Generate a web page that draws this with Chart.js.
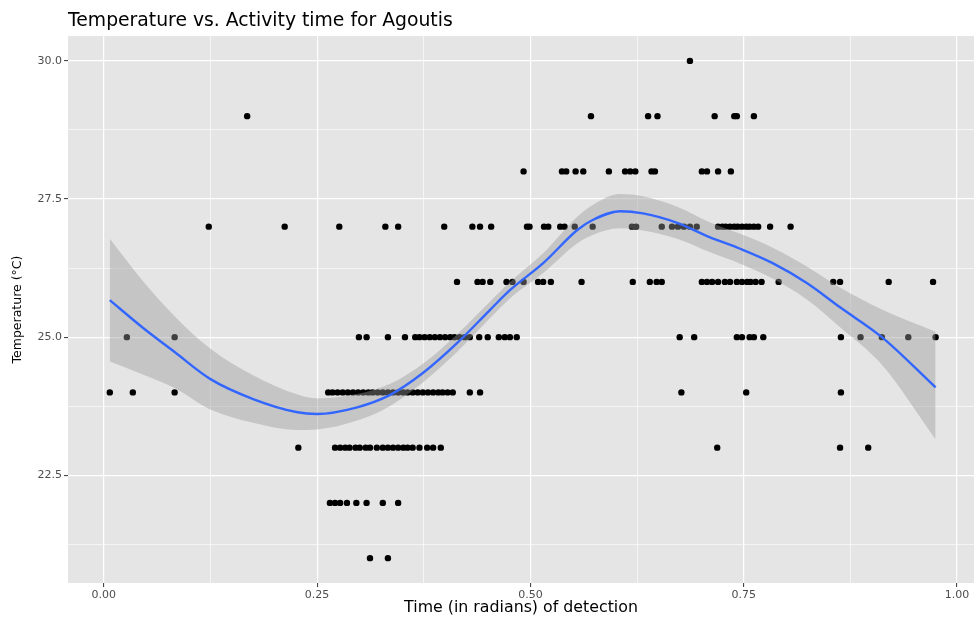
<!DOCTYPE html>
<html>
<head>
<meta charset="utf-8">
<script src="https://cdn.jsdelivr.net/npm/chart.js@4/dist/chart.umd.min.js"></script>
<style>
  html, body { margin: 0; padding: 0; background: #ffffff; }
  #wrap { width: 975px; height: 623px; }
</style>
</head>
<body>
<div id="wrap"><canvas id="agoutiChart"></canvas></div>
<script>
// detections, one list of times per recorded temperature (°C)
const times21 = [0.312, 0.333];
const times22 = [0.265, 0.271, 0.277, 0.285, 0.296, 0.308, 0.327, 0.345];
const times23 = [0.228, 0.271, 0.277, 0.283, 0.288, 0.295, 0.300, 0.307, 0.312, 0.320, 0.327,
    0.333, 0.339, 0.345, 0.351, 0.356, 0.362, 0.370, 0.379, 0.386, 0.395, 0.719, 0.863, 0.896];
const times24 = [0.007, 0.034, 0.083, 0.263, 0.268, 0.274, 0.280, 0.286, 0.292, 0.298, 0.304,
    0.310, 0.315, 0.321, 0.327, 0.333, 0.339, 0.345, 0.351, 0.356, 0.362, 0.368, 0.374, 0.380,
    0.386, 0.392, 0.397, 0.403, 0.409, 0.429, 0.441, 0.677, 0.753, 0.864];
const times25 = [0.027, 0.083, 0.299, 0.308, 0.333, 0.353, 0.365, 0.370, 0.376, 0.382, 0.388,
    0.394, 0.400, 0.406, 0.411, 0.417, 0.423, 0.429, 0.440, 0.450, 0.463, 0.470, 0.476, 0.484,
    0.675, 0.692, 0.742, 0.748, 0.757, 0.762, 0.773, 0.864, 0.887, 0.912, 0.943, 0.975];
const times26 = [0.414, 0.438, 0.444, 0.453, 0.472, 0.479, 0.492, 0.509, 0.515, 0.524, 0.560,
    0.620, 0.640, 0.648, 0.654, 0.701, 0.707, 0.713, 0.720, 0.728, 0.734, 0.742, 0.748, 0.754,
    0.758, 0.764, 0.771, 0.791, 0.855, 0.863, 0.920, 0.972];
const times27 = [0.123, 0.212, 0.276, 0.330, 0.345, 0.399, 0.432, 0.441, 0.454, 0.496, 0.499,
    0.516, 0.521, 0.535, 0.540, 0.552, 0.573, 0.619, 0.624, 0.654, 0.666, 0.673, 0.680, 0.687,
    0.695, 0.720, 0.725, 0.729, 0.734, 0.739, 0.743, 0.748, 0.753, 0.757, 0.762, 0.767, 0.781, 0.805];
const times28 = [0.492, 0.537, 0.542, 0.553, 0.562, 0.592, 0.611, 0.617, 0.623, 0.642, 0.646,
    0.701, 0.707, 0.720, 0.735];
const times29 = [0.168, 0.571, 0.638, 0.649, 0.716, 0.739, 0.742, 0.762];
const times30 = [0.687];

// loess fit and its confidence band
const smoothX    = [0.007, 0.045, 0.083, 0.125, 0.175, 0.227, 0.25, 0.297, 0.335, 0.374, 0.414, 0.4525, 0.476,
    0.515, 0.555, 0.573, 0.605, 0.632, 0.672, 0.71, 0.746, 0.784, 0.824, 0.863, 0.912, 0.975];
const smoothFit  = [25.67, 25.18, 24.73, 24.24, 23.88, 23.64, 23.61, 23.73, 23.95, 24.35, 24.89, 25.49, 25.85,
    26.34, 26.94, 27.12, 27.28, 27.24, 27.07, 26.81, 26.60, 26.34, 25.98, 25.54, 25.00, 24.09];
const bandLow    = [24.56, 24.33, 24.08, 23.69, 23.45, 23.32, 23.33, 23.49, 23.75, 24.18, 24.73, 25.34, 25.70,
    26.16, 26.70, 26.85, 26.97, 26.93, 26.78, 26.54, 26.33, 26.06, 25.68, 25.18, 24.50, 23.15];
const bandHigh   = [26.78, 26.03, 25.38, 24.79, 24.31, 23.96, 23.89, 23.97, 24.15, 24.52, 25.05, 25.64, 26.00,
    26.52, 27.18, 27.39, 27.59, 27.55, 27.36, 27.08, 26.87, 26.62, 26.28, 25.90, 25.50, 25.10];

// axis ticks
const xGridTicks  = [0, 0.125, 0.25, 0.375, 0.5, 0.625, 0.75, 0.875, 1];
const xMajorTicks = [0, 0.25, 0.5, 0.75, 1];
const yGridTicks  = [21.25, 22.5, 23.75, 25, 26.25, 27.5, 28.75, 30];
const yMajorTicks = [22.5, 25, 27.5, 30];

const rows = [
    [21, times21], [22, times22], [23, times23], [24, times24], [25, times25],
    [26, times26], [27, times27], [28, times28], [29, times29], [30, times30]
];
const detections = [];
rows.forEach(([temp, times]) => {
    times.forEach(t => detections.push({ x: t, y: temp }));
});

const toPoints = (xs, ys) => xs.map((x, i) => ({ x, y: ys[i] }));

// grey panel behind the grid, ggplot style
const panelBg = {
    id: "panelBg",
    beforeDraw(chart) {
        const { ctx, chartArea: a } = chart;
        ctx.save();
        ctx.fillStyle = "#E5E5E5";
        ctx.fillRect(a.left, a.top, a.right - a.left, a.bottom - a.top);
        ctx.restore();
    }
};

const font = "'DejaVu Sans', sans-serif";
const isMajor = (list, v) => list.includes(v);

new Chart(document.getElementById("agoutiChart"), {
    type: "scatter",
    data: {
        datasets: [
            {
                label: "detections",
                data: detections,
                backgroundColor: "#000000",
                borderWidth: 0,
                pointRadius: 3.2,
                order: 3
            },
            {
                label: "band low",
                data: toPoints(smoothX, bandLow),
                showLine: true,
                borderWidth: 0,
                borderColor: "rgba(0,0,0,0)",
                pointRadius: 0,
                cubicInterpolationMode: "monotone",
                fill: false,
                order: 2
            },
            {
                label: "band high",
                data: toPoints(smoothX, bandHigh),
                showLine: true,
                borderWidth: 0,
                borderColor: "rgba(0,0,0,0)",
                backgroundColor: "rgba(153,153,153,0.42)",
                pointRadius: 0,
                cubicInterpolationMode: "monotone",
                fill: "-1",
                order: 2
            },
            {
                label: "loess",
                data: toPoints(smoothX, smoothFit),
                showLine: true,
                borderColor: "#3366FF",
                borderWidth: 2.4,
                pointRadius: 0,
                cubicInterpolationMode: "monotone",
                fill: false,
                order: 1
            }
        ]
    },
    options: {
        responsive: true,
        maintainAspectRatio: false,
        animation: false,
        layout: { autoPadding: false, padding: { left: 0, right: 1, top: 0, bottom: 0 } },
        plugins: {
            legend: { display: false },
            tooltip: { enabled: false },
            title: {
                display: true,
                text: "Temperature vs. Activity time for Agoutis",
                align: "start",
                fullSize: false,
                color: "#000000",
                font: { family: font, size: 18.8, weight: "normal" },
                padding: { top: 10, bottom: 3.5 }
            }
        },
        scales: {
            x: {
                type: "linear",
                min: -0.042,
                max: 1.02,
                afterBuildTicks: ax => { ax.ticks = xGridTicks.map(v => ({ value: v })); },
                afterFit: ax => { ax.height = 40; ax.paddingLeft = 0; ax.paddingRight = 0; },
                border: { display: false },
                grid: {
                    color: "#FFFFFF",
                    lineWidth: ctx => isMajor(xMajorTicks, ctx.tick.value) ? 1.2 : 0.6,
                    tickColor: ctx => isMajor(xMajorTicks, ctx.tick.value) ? "#333333" : "rgba(0,0,0,0)",
                    tickLength: 4,
                    tickWidth: 1
                },
                ticks: {
                    autoSkip: false,
                    maxRotation: 0,
                    padding: 2,
                    color: "#4D4D4D",
                    font: { family: font, size: 11 },
                    callback: v => isMajor(xMajorTicks, v) ? v.toFixed(2) : ""
                },
                title: {
                    display: true,
                    text: "Time (in radians) of detection",
                    color: "#000000",
                    font: { family: font, size: 15.8 },
                    padding: { top: 0, bottom: 6 }
                }
            },
            y: {
                type: "linear",
                min: 20.55,
                max: 30.45,
                afterBuildTicks: ax => { ax.ticks = yGridTicks.map(v => ({ value: v })); },
                afterFit: ax => { ax.width = 68; ax.paddingTop = 0; ax.paddingBottom = 0; },
                border: { display: false },
                grid: {
                    color: "#FFFFFF",
                    lineWidth: ctx => isMajor(yMajorTicks, ctx.tick.value) ? 1.2 : 0.6,
                    tickColor: ctx => isMajor(yMajorTicks, ctx.tick.value) ? "#333333" : "rgba(0,0,0,0)",
                    tickLength: 4,
                    tickWidth: 1
                },
                ticks: {
                    autoSkip: false,
                    padding: 2,
                    color: "#4D4D4D",
                    font: { family: font, size: 11 },
                    callback: v => isMajor(yMajorTicks, v) ? v.toFixed(1) : ""
                },
                title: {
                    display: true,
                    text: "Temperature (°C)",
                    color: "#000000",
                    font: { family: font, size: 12.5 },
                    padding: { top: 10, bottom: 0 }
                }
            }
        }
    },
    plugins: [panelBg]
});
</script>
</body>
</html>
